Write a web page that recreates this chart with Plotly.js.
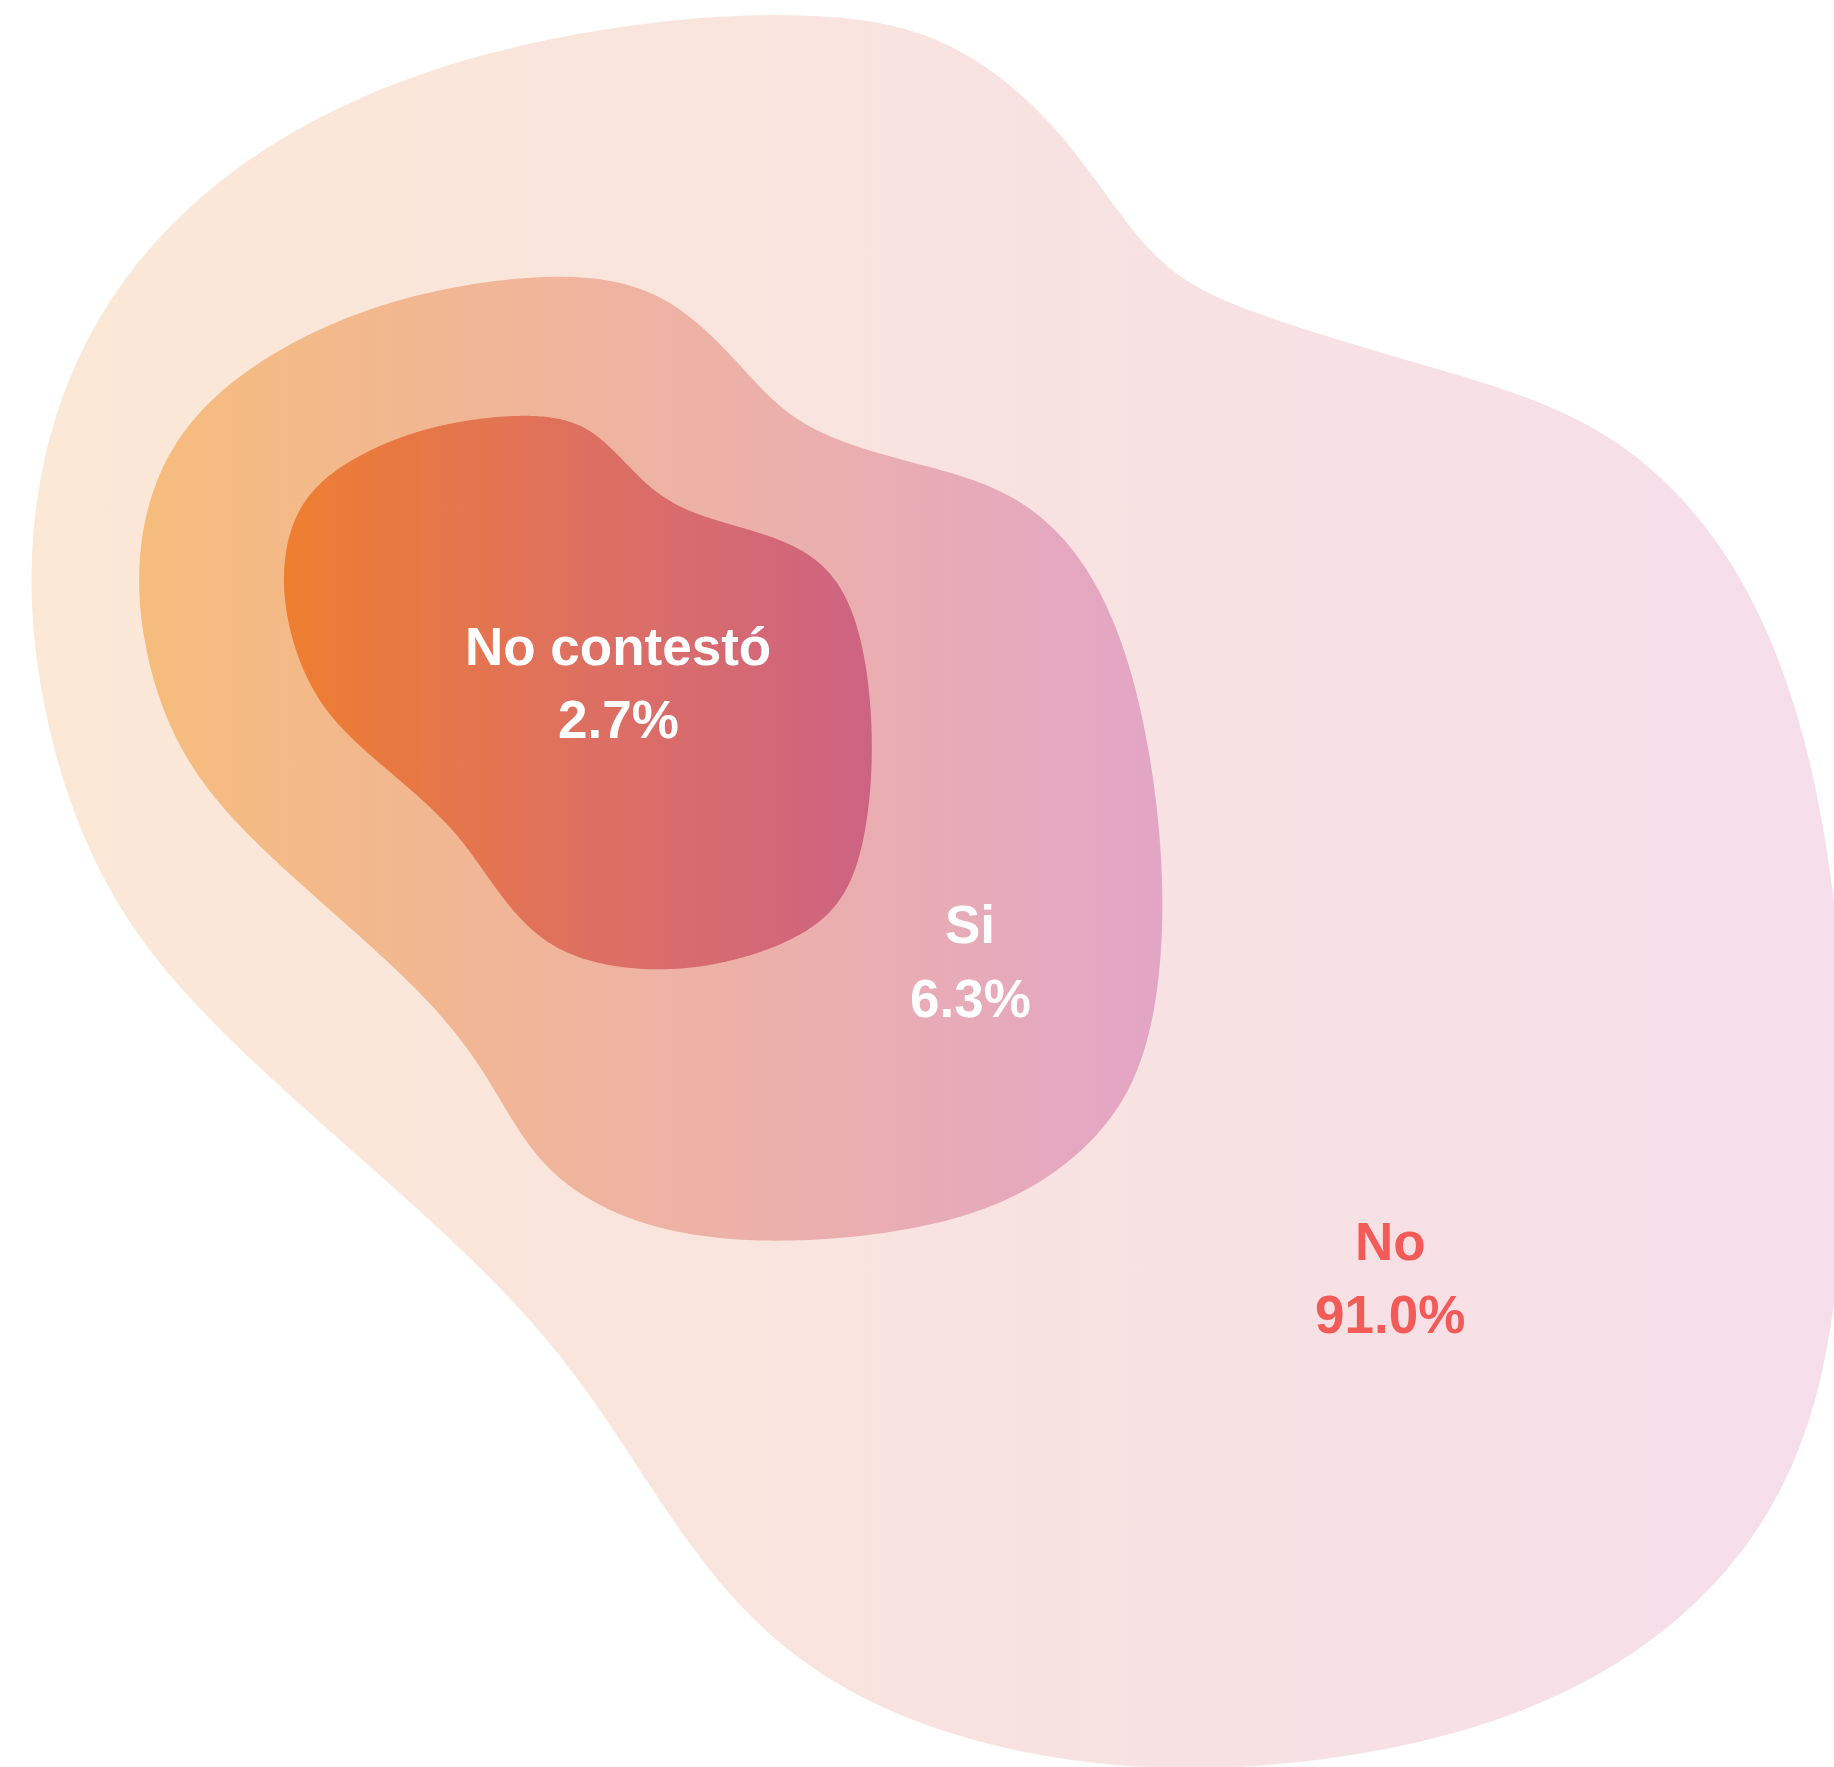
<!DOCTYPE html>
<html>
<head>
<meta charset="utf-8">
<script src="https://cdn.plot.ly/plotly-3.0.1.min.js"></script>
<style>html,body{margin:0;padding:0;background:#fff;}#chart{width:1834px;height:1767px;}</style>
</head>
<body>
<div id="chart"></div>
<script>
// ---- data ----
const categories = ["No", "Si", "No contestó"];
const percentages = [91.0, 6.3, 2.7];
const labelColors = ["#F25B58", "#FFFFFF", "#FFFFFF"];

// ---- geometry: control points of the decorative blob outlines (pixel space) ----
const outerX = [807,935,1040,1110,1170,1260,1420,1600,1730,1805,1840,1845,1815,1710,1530,1300,1080,880,740,640,550,420,250,120,50,29,62,145,275,450,650];
const outerY = [15,35,110,200,272,315,365,425,555,735,950,1180,1420,1595,1712,1764,1764,1710,1610,1470,1340,1210,1060,915,740,560,390,250,140,62,22];
const midX = [570,670,740,800,900,1010,1090,1140,1164,1150,1095,980,800,650,545,490,420,290,190,145,140,175,260,400];
const midY = [274,300,365,425,460,492,570,700,880,1040,1140,1215,1242,1228,1170,1080,990,875,770,650,540,440,360,297];
const innX = [520,585,630,680,770,830,862,873,860,820,730,640,555,500,455,390,325,292,283,300,350,430];
const innY = [415,425,468,510,535,570,640,750,860,925,962,970,950,895,830,772,712,640,570,505,460,427];

// label anchor points (pixel space) and gradients per layer
const labelPos = [[1390, 1260, 1333], [970, 943, 1017], [618, 665, 738]];
const gradients = [
  [[0, "#FCE8D6"], [0.5, "#F8E3E0"], [1, "#F6DEEA"]],
  [[0, "#F6BC7C"], [0.5, "#EEB3A2"], [1, "#E3A5C6"]],
  [[0, "#EE7E30"], [0.5, "#DE7060"], [1, "#CD6383"]]
];

// smooth closed outline from control points (closed uniform cubic B-spline,
// control points pushed out slightly so the curve stays close to them)
function smoothClosed(xs, ys, steps, comp) {
  const N = xs.length;
  const qx = xs.map((x, i) => x - comp * (xs[(i - 1 + N) % N] - 2 * x + xs[(i + 1) % N]) / 6);
  const qy = ys.map((y, i) => y - comp * (ys[(i - 1 + N) % N] - 2 * y + ys[(i + 1) % N]) / 6);
  const ox = [], oy = [];
  for (let i = 0; i < N; i++) {
    const a = (i - 1 + N) % N, b = i, c = (i + 1) % N, d = (i + 2) % N;
    for (let k = 0; k < steps; k++) {
      const t = k / steps, t2 = t * t, t3 = t2 * t;
      const b0 = (1 - t) * (1 - t) * (1 - t) / 6;
      const b1 = (3 * t3 - 6 * t2 + 4) / 6;
      const b2 = (-3 * t3 + 3 * t2 + 3 * t + 1) / 6;
      const b3 = t3 / 6;
      ox.push(b0 * qx[a] + b1 * qx[b] + b2 * qx[c] + b3 * qx[d]);
      oy.push(b0 * qy[a] + b1 * qy[b] + b2 * qy[c] + b3 * qy[d]);
    }
  }
  ox.push(ox[0]); oy.push(oy[0]);
  return [ox, oy];
}

const outlines = [[outerX, outerY], [midX, midY], [innX, innY]].map(o => smoothClosed(o[0], o[1], 30, 0.7));

const traces = outlines.map((o, i) => ({
  type: "scatter",
  mode: "lines",
  x: o[0],
  y: o[1],
  fill: "toself",
  line: {width: 0, color: "rgba(0,0,0,0)", simplify: false},
  fillgradient: {type: "horizontal", colorscale: gradients[i]},
  hoverinfo: "skip",
  name: categories[i],
  showlegend: false
}));

const font = {family: "Liberation Sans, Arial, Helvetica, sans-serif", size: 53, weight: "bold"};
const annotations = [];
categories.forEach((c, i) => {
  const p = labelPos[i];
  annotations.push({
    x: p[0], y: p[1] - 19, xref: "x", yref: "y", text: "<b>" + c + "</b>",
    showarrow: false, xanchor: "center", yanchor: "middle",
    font: Object.assign({}, font, {color: labelColors[i]})
  });
  annotations.push({
    x: p[0], y: p[2] - 19, xref: "x", yref: "y", text: "<b>" + percentages[i].toFixed(1) + "%</b>",
    showarrow: false, xanchor: "center", yanchor: "middle",
    font: Object.assign({}, font, {color: labelColors[i]})
  });
});

const layout = {
  width: 1834,
  height: 1767,
  margin: {l: 0, r: 0, t: 0, b: 0, pad: 0},
  paper_bgcolor: "#FFFFFF",
  plot_bgcolor: "#FFFFFF",
  showlegend: false,
  xaxis: {range: [0, 1834], visible: false, fixedrange: true},
  yaxis: {range: [1767, 0], visible: false, fixedrange: true},
  annotations: annotations
};

Plotly.newPlot("chart", traces, layout, {displayModeBar: false, staticPlot: true});
</script>
</body>
</html>
